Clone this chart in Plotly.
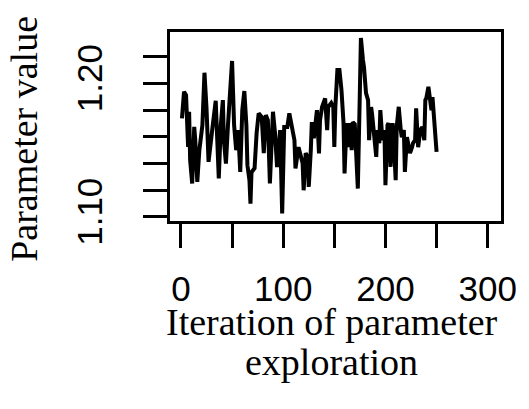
import plotly.graph_objects as go

# Iteration of parameter exploration (x) and parameter value (y)
iteration = [1, 3, 5, 7, 8, 9, 11, 13, 14, 16, 18, 19, 21, 23, 25, 27, 29, 31, 34, 37,
             39, 41, 42, 44, 46, 47, 50, 52, 54, 56, 58, 60, 62, 64, 65, 67, 68, 69, 72, 74,
             76, 79, 81, 83, 85, 87, 89, 90, 92, 94, 97, 99, 101, 104, 106, 109, 111, 112, 115, 117,
             119, 120, 122, 124, 125, 127, 128, 130, 132, 133, 135, 136, 138, 140, 141, 143, 144, 147, 149, 150,
             151, 153, 155, 157, 159, 160, 162, 163, 165, 167, 168, 170, 173, 175, 176, 178, 179, 181, 183, 184,
             186, 187, 189, 191, 192, 194, 195, 197, 199, 200, 202, 203, 205, 207, 208, 210, 211, 213, 215, 216,
             218, 219, 221, 222, 224, 226, 227, 229, 230, 232, 234, 236, 238, 239, 240, 242, 243, 245, 246, 248,
             249, 250]
param_value = [1.1738, 1.1938, 1.1913, 1.1525, 1.1788, 1.1425, 1.1251, 1.1675, 1.1575, 1.1263,
               1.1500, 1.1590, 1.1688, 1.2080, 1.1815, 1.1413, 1.1575, 1.1680, 1.1870, 1.1288,
               1.1688, 1.1875, 1.1575, 1.1400, 1.1688, 1.1793, 1.2168, 1.1688, 1.1500, 1.1650,
               1.1338, 1.1800, 1.1943, 1.1688, 1.1388, 1.1275, 1.1100, 1.1335, 1.1365, 1.1628,
               1.1776, 1.1748, 1.1478, 1.1763, 1.1725, 1.1251, 1.1575, 1.1788, 1.1628, 1.1373,
               1.1650, 1.1026, 1.1673, 1.1673, 1.1776, 1.1650, 1.1575, 1.1363, 1.1523, 1.1463,
               1.1403, 1.1200, 1.1478, 1.1448, 1.1225, 1.1500, 1.1710, 1.1590, 1.1748, 1.1800,
               1.1476, 1.1725, 1.1823, 1.1860, 1.1888, 1.1650, 1.1823, 1.1853, 1.1823, 1.1525,
               1.1823, 1.2100, 1.2100, 1.1950, 1.1703, 1.1326, 1.1703, 1.1523, 1.1703, 1.1500,
               1.1710, 1.1695, 1.1213, 1.1950, 1.2340, 1.2175, 1.2123, 1.1928, 1.1875, 1.1575,
               1.1823, 1.1763, 1.1575, 1.1450, 1.1650, 1.1553, 1.1800, 1.1575, 1.1650, 1.1238,
               1.1688, 1.1703, 1.1375, 1.1703, 1.1598, 1.1275, 1.1673, 1.1825, 1.1650, 1.1598,
               1.1650, 1.1338, 1.1598, 1.1553, 1.1478, 1.1523, 1.1553, 1.1575, 1.1813, 1.1523,
               1.1650, 1.1673, 1.1575, 1.1875, 1.1890, 1.1975, 1.1898, 1.1800, 1.1898, 1.1703,
               1.1560, 1.1488]

x_ticks = [0, 50, 100, 150, 200, 250, 300]
x_tick_labels = ["0", "", "100", "", "200", "", "300"]
y_ticks = [1.10, 1.12, 1.14, 1.16, 1.18, 1.20, 1.22]
y_tick_labels = ["1.10", "", "", "", "", "1.20", ""]

x_title_lines = ["Iteration of parameter", "exploration"]
y_title = "Parameter value"

SERIF = "Liberation Serif"
SANS = "Liberation Sans"

fig = go.Figure()
fig.add_trace(go.Scatter(x=iteration, y=param_value, mode="lines",
                         line=dict(color="black", width=4),
                         showlegend=False, hoverinfo="skip"))

axis_common = dict(showgrid=False, zeroline=False, showline=True, linecolor="black",
                   linewidth=2.7, mirror=True, ticks="outside", ticklen=24,
                   tickwidth=2.5, tickcolor="black",
                   tickfont=dict(family=SANS, size=35, color="black"))

fig.update_xaxes(range=[-10.7, 313], tickmode="array", tickvals=x_ticks,
                 ticktext=x_tick_labels, ticklabelposition="outside", ticklabelstandoff=11,
                 **axis_common)
fig.update_yaxes(range=[1.097, 1.2385], tickmode="array", tickvals=y_ticks,
                 ticktext=y_tick_labels, tickangle=-90, ticklabelposition="outside",
                 ticklabelstandoff=27, **axis_common)

fig.add_annotation(text=x_title_lines[0], xref="paper", yref="paper", x=0, y=0,
                   xanchor="center", yanchor="middle", xshift=331 - 169.5, yshift=-101,
                   showarrow=False, font=dict(family=SERIF, size=38, color="black"))
fig.add_annotation(text=x_title_lines[1], xref="paper", yref="paper", x=0, y=0,
                   xanchor="center", yanchor="middle", xshift=331 - 169.5, yshift=-141,
                   showarrow=False, font=dict(family=SERIF, size=38, color="black"))
fig.add_annotation(text=y_title, xref="paper", yref="paper", x=0, y=0,
                   xanchor="center", yanchor="middle", xshift=24 - 169.5, yshift=220.7 - 139,
                   textangle=-90, showarrow=False,
                   font=dict(family=SERIF, size=38, color="black"))

fig.update_layout(width=529, height=409, margin=dict(l=169.5, r=21, t=32, b=188.3),
                  paper_bgcolor="white", plot_bgcolor="white")

fig.write_html("out.html")
